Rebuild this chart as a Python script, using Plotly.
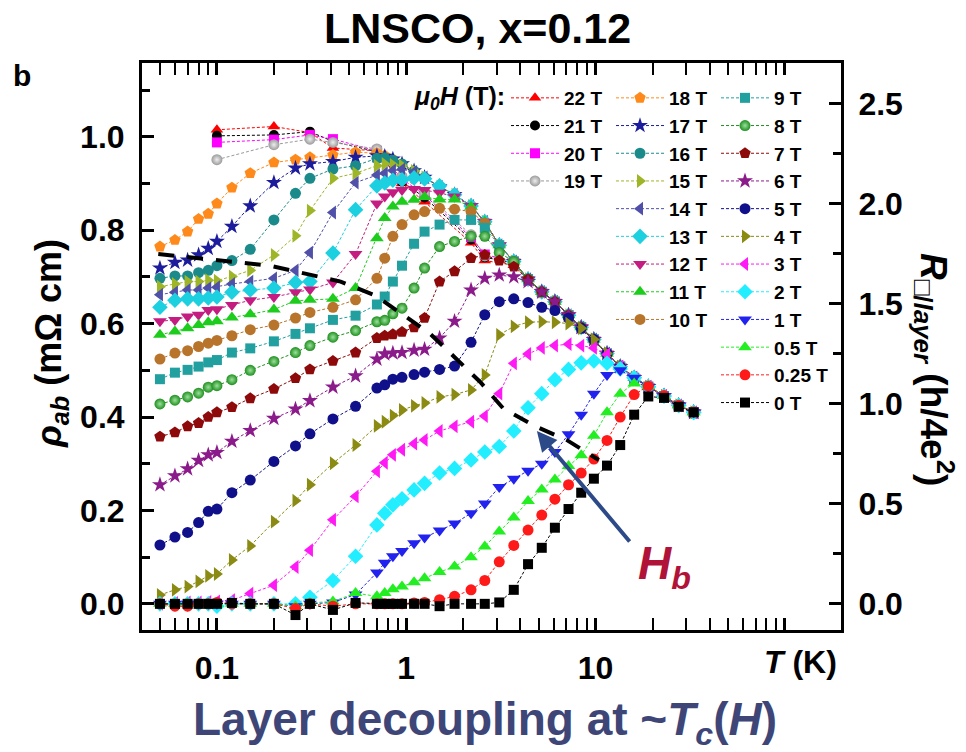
import numpy as np
import plotly.graph_objects as go

# Temperature grid (K)
T = [0.05, 0.06, 0.07, 0.08, 0.09, 0.10, 0.12, 0.15, 0.20, 0.26, 0.31, 0.41, 0.54, 0.70,
     0.77, 0.85, 0.95, 1.1, 1.25, 1.5, 1.8, 2.2, 2.6, 3.1, 3.7, 4.4, 5.2, 6.1, 7.2, 8.4,
     9.8, 11.5, 13.5, 16, 19, 23, 27.5, 33]

N = None
# rho_ab (mOhm cm) for each field
rho_22T = [N, N, N, N, N, 1.015, N, N, 1.022, N, 1.009, 0.976, N, 0.970, N, N, 0.900, N, 0.861, N,
           N, 0.773, 0.735, N, 0.725, 0.695, 0.668, 0.647, 0.618, 0.592, 0.566, 0.536, 0.508, 0.484,
           0.465, 0.445, 0.425, 0.410]
rho_21T = [N, N, N, N, N, 1.002, N, N, 1.004, N, 1.011, 0.990, N, 0.968, N, N, 0.904, N, 0.870, N,
           N, 0.780, 0.742, N, 0.730, 0.695, 0.668, 0.647, 0.618, 0.592, 0.566, 0.536, 0.508, 0.484,
           0.465, 0.445, 0.425, 0.410]
rho_20T = [N, N, N, N, N, 0.988, N, N, 0.994, N, 1.004, 0.995, N, 0.970, N, N, 0.910, N, 0.875, N,
           N, 0.785, 0.748, N, 0.733, 0.695, 0.668, 0.647, 0.618, 0.592, 0.566, 0.536, 0.508, 0.484,
           0.465, 0.445, 0.425, 0.410]
rho_19T = [N, N, N, N, N, 0.951, N, N, 0.983, N, 0.995, 0.988, N, 0.974, N, N, 0.915, N, 0.880, N,
           N, 0.790, 0.745, N, 0.733, 0.695, 0.668, 0.647, 0.618, 0.592, 0.566, 0.536, 0.508, 0.484,
           0.465, 0.445, 0.425, 0.410]
rho_18T = [0.765, 0.779, 0.797, 0.824, 0.835, 0.857, 0.891, 0.922, 0.945, 0.951, 0.956, 0.961, 0.967,
           0.965, 0.960, 0.952, 0.942, 0.927, 0.913, 0.893, 0.876, 0.852, 0.818, 0.768, 0.733, 0.695,
           0.668, 0.647, 0.618, 0.592, 0.566, 0.536, 0.508, 0.484, 0.465, 0.445, 0.425, 0.410]
rho_17T = [0.719, 0.731, 0.736, 0.747, 0.761, 0.776, 0.808, 0.852, 0.902, 0.933, 0.942, 0.947, 0.956,
           0.959, 0.958, 0.952, 0.942, 0.927, 0.913, 0.893, 0.876, 0.852, 0.818, 0.768, 0.733, 0.695,
           0.668, 0.647, 0.618, 0.592, 0.566, 0.536, 0.508, 0.484, 0.465, 0.445, 0.425, 0.410]
rho_16T = [0.697, 0.702, 0.702, 0.709, 0.714, 0.724, 0.735, 0.759, 0.822, 0.879, 0.911, 0.931, 0.938,
           0.954, 0.955, 0.950, 0.942, 0.927, 0.913, 0.893, 0.876, 0.852, 0.818, 0.768, 0.733, 0.695,
           0.668, 0.647, 0.618, 0.592, 0.566, 0.536, 0.508, 0.484, 0.465, 0.445, 0.425, 0.410]
rho_15T = [0.679, 0.685, 0.690, 0.690, 0.693, 0.692, 0.701, 0.714, 0.747, 0.788, 0.842, 0.911, 0.922,
           0.938, 0.942, 0.940, 0.938, 0.927, 0.913, 0.893, 0.876, 0.852, 0.818, 0.768, 0.733, 0.695,
           0.668, 0.647, 0.618, 0.592, 0.566, 0.536, 0.508, 0.484, 0.465, 0.445, 0.425, 0.410]
rho_14T = [0.662, 0.667, 0.672, 0.672, 0.676, 0.678, 0.685, 0.690, 0.697, 0.714, 0.752, 0.838, 0.902,
           0.918, 0.922, 0.928, 0.930, 0.925, 0.913, 0.893, 0.876, 0.852, 0.818, 0.768, 0.733, 0.695,
           0.668, 0.647, 0.618, 0.592, 0.566, 0.536, 0.508, 0.484, 0.465, 0.445, 0.425, 0.410]
rho_13T = [0.635, 0.650, 0.653, 0.653, 0.655, 0.657, 0.667, 0.672, 0.676, 0.688, 0.690, 0.751, 0.844,
           0.895, 0.901, 0.907, 0.908, 0.912, 0.910, 0.895, 0.876, 0.852, 0.818, 0.768, 0.733, 0.695,
           0.668, 0.647, 0.618, 0.592, 0.566, 0.536, 0.508, 0.484, 0.465, 0.445, 0.425, 0.410]
rho_12T = [0.605, 0.608, 0.615, 0.619, 0.629, 0.631, 0.640, 0.650, 0.657, 0.667, 0.673, 0.688, 0.749,
           0.857, 0.872, 0.881, 0.886, 0.888, 0.886, 0.880, 0.872, 0.852, 0.818, 0.768, 0.733, 0.695,
           0.668, 0.647, 0.618, 0.592, 0.566, 0.536, 0.508, 0.484, 0.465, 0.445, 0.425, 0.410]
rho_11T = [0.576, 0.583, 0.590, 0.597, 0.603, 0.605, 0.613, 0.620, 0.630, 0.649, 0.651, 0.653, 0.676,
           0.783, 0.826, 0.851, 0.861, 0.865, 0.871, 0.866, 0.866, 0.850, 0.818, 0.768, 0.733, 0.695,
           0.668, 0.647, 0.618, 0.592, 0.566, 0.536, 0.508, 0.484, 0.465, 0.445, 0.425, 0.410]
rho_10T = [0.524, 0.537, 0.542, 0.551, 0.558, 0.564, 0.574, 0.587, 0.597, 0.612, 0.624, 0.635, 0.651,
           0.697, 0.740, 0.787, 0.812, 0.833, 0.840, 0.847, 0.845, 0.840, 0.815, 0.768, 0.733, 0.695,
           0.668, 0.647, 0.618, 0.592, 0.566, 0.536, 0.508, 0.484, 0.465, 0.445, 0.425, 0.410]
rho_9T = [0.481, 0.495, 0.501, 0.508, 0.517, 0.522, 0.538, 0.547, 0.562, 0.578, 0.590, 0.608, 0.617,
          0.641, 0.658, 0.690, 0.724, 0.771, 0.797, 0.812, 0.822, 0.822, 0.805, 0.768, 0.733, 0.695,
          0.668, 0.647, 0.618, 0.592, 0.566, 0.536, 0.508, 0.484, 0.465, 0.445, 0.425, 0.410]
rho_8T = [0.428, 0.436, 0.443, 0.451, 0.464, 0.467, 0.480, 0.500, 0.519, 0.538, 0.553, 0.571, 0.585,
          0.604, 0.607, 0.621, 0.633, 0.676, 0.719, 0.765, 0.776, 0.787, 0.787, 0.752, 0.733, 0.695,
          0.668, 0.647, 0.618, 0.592, 0.566, 0.536, 0.508, 0.484, 0.465, 0.445, 0.425, 0.410]
rho_7T = [0.358, 0.367, 0.380, 0.387, 0.400, 0.410, 0.421, 0.440, 0.460, 0.483, 0.502, 0.520, 0.538,
          0.569, 0.574, 0.577, 0.582, 0.592, 0.612, 0.690, 0.712, 0.740, 0.747, 0.735, 0.722, 0.695,
          0.668, 0.647, 0.618, 0.592, 0.566, 0.536, 0.508, 0.484, 0.465, 0.445, 0.425, 0.410]
rho_6T = [0.255, 0.274, 0.289, 0.307, 0.319, 0.324, 0.348, 0.371, 0.397, 0.417, 0.435, 0.464, 0.488,
          0.524, 0.535, 0.537, 0.538, 0.543, 0.545, 0.569, 0.605, 0.672, 0.697, 0.704, 0.700, 0.690,
          0.668, 0.647, 0.618, 0.592, 0.566, 0.536, 0.508, 0.484, 0.465, 0.445, 0.425, 0.410]
rho_5T = [0.126, 0.143, 0.153, 0.174, 0.198, 0.203, 0.238, 0.265, 0.305, 0.338, 0.364, 0.396, 0.423,
          0.462, 0.469, 0.481, 0.485, 0.491, 0.496, 0.502, 0.509, 0.560, 0.619, 0.647, 0.653, 0.645,
          0.635, 0.628, 0.612, 0.590, 0.566, 0.536, 0.508, 0.484, 0.465, 0.445, 0.425, 0.410]
rho_4T = [0.019, 0.030, 0.037, 0.048, 0.060, 0.064, 0.094, 0.124, 0.176, 0.221, 0.255, 0.301, 0.340,
          0.381, 0.390, 0.403, 0.415, 0.424, 0.430, 0.443, 0.448, 0.458, 0.490, 0.576, 0.594, 0.603,
          0.604, 0.603, 0.600, 0.590, 0.566, 0.536, 0.508, 0.484, 0.465, 0.445, 0.425, 0.410]
rho_3T = [0.000, 0.002, 0.003, 0.003, 0.004, 0.005, 0.008, 0.022, 0.040, 0.079, 0.115, 0.180, 0.230,
          0.284, 0.302, 0.319, 0.330, 0.343, 0.351, 0.370, 0.380, 0.390, 0.402, 0.450, 0.515, 0.535,
          0.548, 0.553, 0.556, 0.553, 0.548, 0.534, 0.508, 0.484, 0.465, 0.445, 0.425, 0.410]
rho_2T = [0.000, 0.000, 0.000, 0.000, 0.000, -0.005, 0.000, 0.000, 0.000, 0.000, 0.014, 0.050, 0.102,
          0.169, 0.194, 0.212, 0.225, 0.244, 0.258, 0.280, 0.290, 0.308, 0.325, 0.337, 0.370, 0.420,
          0.450, 0.480, 0.502, 0.516, 0.520, 0.515, 0.503, 0.484, 0.465, 0.445, 0.425, 0.410]
rho_1T = [0.000, 0.000, 0.000, 0.000, 0.000, 0.000, 0.000, 0.000, 0.000, -0.005, 0.000, 0.003, 0.020,
          0.067, 0.088, 0.102, 0.113, 0.130, 0.142, 0.157, 0.172, 0.194, 0.215, 0.250, 0.268, 0.285,
          0.300, 0.325, 0.363, 0.405, 0.450, 0.490, 0.500, 0.484, 0.465, 0.445, 0.425, 0.410]
rho_05T = [0.000, 0.000, 0.000, 0.000, 0.000, 0.000, 0.000, 0.000, 0.000, -0.005, 0.002, 0.005, 0.023,
           0.016, 0.023, 0.031, 0.037, 0.046, 0.055, 0.068, 0.080, 0.100, 0.123, 0.155, 0.185, 0.220,
           0.245, 0.266, 0.295, 0.318, 0.360, 0.410, 0.450, 0.472, 0.467, 0.445, 0.425, 0.410]
rho_025T = [0.000, -0.005, -0.005, 0.000, 0.000, 0.003, 0.000, 0.000, 0.000, -0.010, 0.000, -0.005,
            0.000, 0.000, 0.000, 0.000, 0.000, 0.002, 0.003, 0.009, 0.016, 0.030, 0.050, 0.090, 0.125,
            0.158, 0.190, 0.224, 0.255, 0.280, 0.310, 0.350, 0.400, 0.448, 0.466, 0.446, 0.425, 0.411]
rho_0T = [0.000, 0.000, 0.000, 0.000, 0.000, 0.000, 0.002, 0.000, 0.000, -0.024, 0.000, -0.013, 0.002,
          0.000, 0.000, 0.000, 0.000, 0.000, 0.000, -0.005, 0.000, 0.000, 0.000, 0.003, 0.030, 0.085,
          0.120, 0.163, 0.203, 0.238, 0.268, 0.296, 0.340, 0.405, 0.444, 0.441, 0.422, 0.410]

field_labels = ["22 T", "21 T", "20 T", "19 T", "18 T", "17 T", "16 T", "15 T", "14 T", "13 T",
                "12 T", "11 T", "10 T", "9 T", "8 T", "7 T", "6 T", "5 T", "4 T", "3 T", "2 T",
                "1 T", "0.5 T", "0.25 T", "0 T"]
field_rho = [rho_22T, rho_21T, rho_20T, rho_19T, rho_18T, rho_17T, rho_16T, rho_15T, rho_14T,
             rho_13T, rho_12T, rho_11T, rho_10T, rho_9T, rho_8T, rho_7T, rho_6T, rho_5T, rho_4T,
             rho_3T, rho_2T, rho_1T, rho_05T, rho_025T, rho_0T]

# Layer-decoupling field H_b guide line
Hb_T = [0.049, 0.19, 0.45, 0.69, 0.93, 1.34, 1.79, 2.46, 3.26, 4.75, 7.03, 10.4]
Hb_rho = [0.749, 0.724, 0.690, 0.660, 0.623, 0.578, 0.529, 0.475, 0.418, 0.381, 0.351, 0.308]

# rho_ab (mOhm cm) -> sheet resistance per layer in units of h/4e^2
RHO_TO_RSQ = 2.335

# marker style per field: colour, symbol, size, sphere shading
styles = [
    ("#FF0000", "triangle-up", 11, None), ("#000000", "circle", 10, None),
    ("#FF00FF", "square", 10, None), ("#9A9A9A", "circle", 11, "#EEEEEE"),
    ("#FF8A1C", "pentagon", 12, None), ("#1C1C9C", "star", 12, None),
    ("#1A8A8A", "circle", 11, None), ("#9DB526", "triangle-right", 12, None),
    ("#5050A8", "triangle-left", 12, None), ("#1DD0E0", "diamond", 12, None),
    ("#C41C80", "triangle-down", 12, None), ("#1ECC1E", "triangle-up", 12, None),
    ("#B8742A", "circle", 11, None), ("#22A0A0", "square", 10, None),
    ("#1E8F1E", "circle", 11, "#9BE09B"), ("#8E0A0A", "pentagon", 12, None),
    ("#8B1A8B", "star", 12, None), ("#10108A", "circle", 11, None),
    ("#8B8B14", "triangle-right", 12, None), ("#FF1AF5", "triangle-left", 12, None),
    ("#22EEFF", "diamond", 12, None), ("#2222EE", "triangle-down", 12, None),
    ("#22EE22", "triangle-up", 12, None), ("#FF1A1A", "circle", 11, None),
    ("#000000", "square", 10, None),
]
legend_of = ["legend"] * 4 + ["legend2"] * 9 + ["legend3"] * 12

FONT = "Liberation Sans, Arial, sans-serif"

fig = go.Figure()
for label_txt, rho, (col, sym, size, shade), lg in zip(field_labels, field_rho, styles, legend_of):
    marker = dict(color=col, symbol=sym, size=size, line=dict(width=0))
    if shade:
        marker["gradient"] = dict(type="radial", color=shade)
    fig.add_trace(go.Scatter(
        x=T, y=rho, name=label_txt, mode="lines+markers", connectgaps=True,
        line=dict(color=col, width=1, dash="3px,2px"), marker=marker, legend=lg,
    ))

# H_b guide
fig.add_trace(go.Scatter(x=Hb_T, y=Hb_rho, mode="lines", showlegend=False, hoverinfo="skip",
                         line=dict(color="black", width=4, dash="16px,13px")))
# right-hand scale (same data, other units, not drawn)
fig.add_trace(go.Scatter(x=T, y=[v * RHO_TO_RSQ for v in rho_0T], yaxis="y2", mode="markers",
                         marker=dict(opacity=0), showlegend=False, hoverinfo="skip"))

W, H = 966, 752
L, R, TOP, B = 142, 841, 63, 630


def px(x):
    return (x - L) / (R - L)


def py(y):
    return (B - y) / (B - TOP)


y_range = [-0.056, 1.158]
tickfont = dict(family=FONT, size=32, color="black", weight="bold")
minor_x = [m * 10.0 ** e for e in (-2, -1, 0, 1) for m in range(2, 10)]
minor_x = [v for v in minor_x if 0.04 < v < 198]

fig.update_layout(
    width=W, height=H, margin=dict(l=L, r=W - R, t=TOP, b=H - B),
    paper_bgcolor="white", plot_bgcolor="white",
    xaxis=dict(type="log", range=[np.log10(0.0402), np.log10(198)],
               tickvals=[0.1, 1, 10, 100], ticktext=["0.1", "1", "10", ""],
               ticks="inside", ticklen=12, tickwidth=2.5, tickcolor="black",
               minor=dict(tickvals=minor_x, ticks="inside", ticklen=6, tickwidth=2, tickcolor="black"),
               showline=True, linewidth=3, linecolor="black", mirror="allticks",
               showgrid=False, zeroline=False, tickfont=tickfont, ticklabelstandoff=8),
    yaxis=dict(range=y_range, tickvals=[0, 0.2, 0.4, 0.6, 0.8, 1.0],
               ticktext=["0.0", "0.2", "0.4", "0.6", "0.8", "1.0"],
               ticks="inside", ticklen=12, tickwidth=2.5, tickcolor="black",
               minor=dict(tickvals=[0.1, 0.3, 0.5, 0.7, 0.9, 1.1], ticks="inside", ticklen=8,
                          tickwidth=2.5, tickcolor="black"),
               showline=True, linewidth=3, linecolor="black", mirror=True,
               showgrid=False, zeroline=False, tickfont=tickfont, ticklabelstandoff=8),
    yaxis2=dict(overlaying="y", side="right", range=[v * RHO_TO_RSQ for v in y_range],
                tickvals=[0, 0.5, 1.0, 1.5, 2.0, 2.5],
                ticktext=["0.0", "0.5", "1.0", "1.5", "2.0", "2.5"],
                ticks="inside", ticklen=12, tickwidth=2.5, tickcolor="black",
                minor=dict(tickvals=[0.25, 0.75, 1.25, 1.75, 2.25], ticks="inside", ticklen=8,
                           tickwidth=2.5, tickcolor="black"),
                showline=True, linewidth=3, linecolor="black",
                showgrid=False, zeroline=False, tickfont=tickfont, ticklabelstandoff=8),
    showlegend=True,
)

legend_font = dict(family=FONT, size=19, color="black", weight="bold")
for name, xl in (("legend", 506), ("legend2", 611), ("legend3", 716)):
    fig.update_layout({name: dict(x=px(xl), y=py(79), xanchor="left", yanchor="top",
                                  bgcolor="rgba(0,0,0,0)", borderwidth=0, font=legend_font,
                                  itemwidth=48, traceorder="normal", tracegroupgap=0,
                                  itemclick=False)})


def label(text, x, y, size, color="black", angle=0, xanchor="center"):
    return dict(text=text, x=px(x), y=py(y), xref="paper", yref="paper", showarrow=False,
                xanchor=xanchor, yanchor="middle", textangle=angle,
                font=dict(family=FONT, size=size, color=color, weight="bold"))


ann = [
    label("LNSCO, x=0.12", 477, 28, 43),
    label("b", 22, 75, 30),
    label("<i>μ<sub>0</sub>H</i> (T):", 412, 98, 25, xanchor="left"),
    label("<i>ρ<sub>ab</sub></i> (mΩ cm)", 51, 344, 36, angle=-90),
    label("<i>R</i><sub>□/<i>layer</i></sub> (h/4e<sup>2</sup>)", 935, 369, 37, angle=90),
    label("<i>T</i> (K)", 800, 662, 32),
    label("Layer decoupling at ~<i>T<sub>c</sub></i>(<i>H</i>)", 485, 722, 46, color="#3E4678"),
    label("<i>H<sub>b</sub></i>", 664, 566, 46, color="#B01238"),
    dict(text="", x=np.log10(4.9), y=0.37, xref="x", yref="y", ax=94, ay=112,
         showarrow=True, arrowhead=2, arrowsize=1.0, arrowwidth=4, arrowcolor="#2D4A88"),
]
fig.update_layout(annotations=ann)

fig.write_html("out.html")
